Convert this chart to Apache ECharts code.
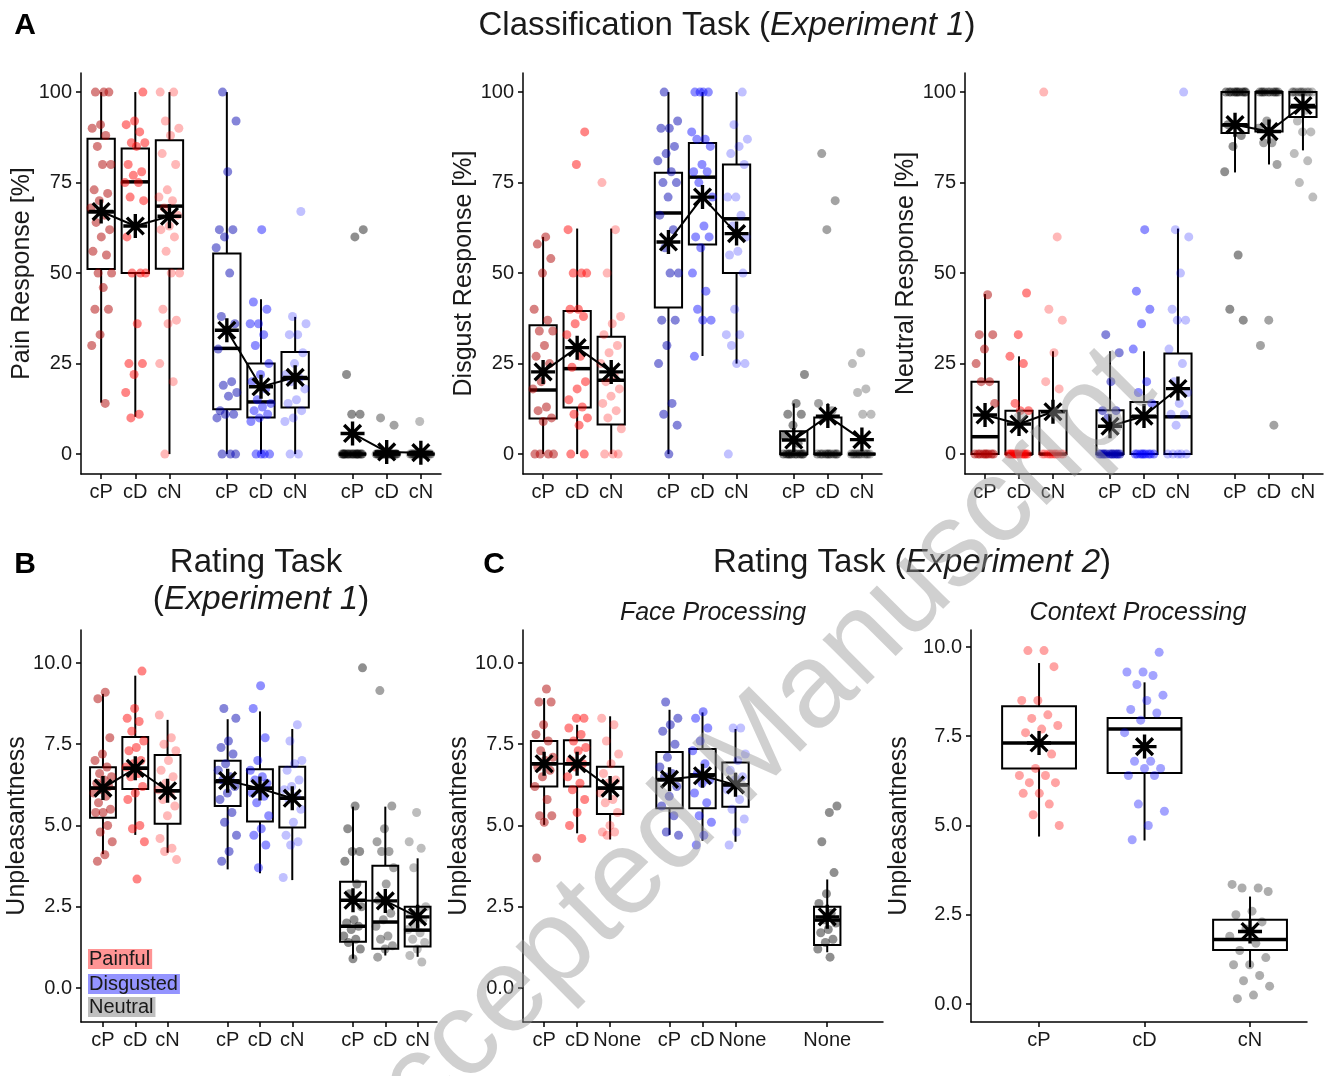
<!DOCTYPE html>
<html>
<head>
<meta charset="utf-8">
<script src="https://cdn.jsdelivr.net/npm/echarts@6/dist/echarts.min.js"></script>
<style>
  html, body { margin: 0; padding: 0; background: #fff; }
  #main { width: 1340px; height: 1076px; }
</style>
</head>
<body>
<div id="main"></div>
<script>
// ---- data ----
const classLabels = ['cP', 'cD', 'cN', 'cP', 'cD', 'cN', 'cP', 'cD', 'cN'];
const faceLabels = ['cP', 'cD', 'None', 'cP', 'cD', 'None', 'None'];
const contextLabels = ['cP', 'cD', 'cN'];
const pctTicks = [0, 25, 50, 75, 100];
const ratingTicks = [0, 2.5, 5, 7.5, 10];

// box stats: [lower whisker, Q1, median, Q3, upper whisker]
const painBox = [[14.2, 51.1, 66.9, 87.1, 100], [10.3, 50, 75.2, 84.4, 100], [0, 51.2, 68.5, 86.7, 100],
  [0, 12.4, 29.2, 55.4, 100], [0, 10.1, 14.4, 25, 42.8], [0, 12.9, 20.9, 28.2, 37.9],
  [0, 0, 0, 0, 0], [0, 0, 0, 0, 0], [0, 0, 0, 0, 0]];
const painMean = [67, 63, 65.7, 34.2, 18.6, 21.2, 5.7, 0.6, 0.4];
const painPoints = [
  [100, 100, 100, 91, 90, 88, 85, 80, 80, 73, 72, 70, 68, 66, 64, 62, 60, 56, 55, 50, 50, 46, 40, 40, 33, 30, 14],
  [100, 92, 91, 89, 86, 86, 85, 80, 78, 77, 75, 75, 71, 70, 63, 60, 50, 50, 50, 36, 25, 25, 22, 17, 11, 10],
  [100, 100, 92, 90, 88, 83, 80, 73, 71, 70, 68, 66, 63, 62, 60, 56, 50, 50, 40, 37, 36, 25, 20, 0],
  [100, 92, 78, 62, 62, 60, 57, 50, 38, 36, 34, 29, 20, 19, 17, 16, 12, 11, 11, 10, 0, 0, 0],
  [62, 42, 40, 36, 36, 33, 30, 25, 22, 20, 18, 15, 14, 13, 12, 11, 10, 9, 0, 0, 0, 0],
  [67, 38, 36, 33, 33, 28, 25, 22, 21, 20, 18, 15, 14, 12, 10, 9, 0, 0],
  [62, 60, 22, 11, 11, 0, 0, 0, 0, 0, 0, 0, 0, 0, 0, 0, 0, 0, 0, 0],
  [10, 8, 0, 0, 0, 0, 0, 0, 0, 0, 0, 0, 0, 0, 0, 0, 0, 0, 0, 0],
  [9, 0, 0, 0, 0, 0, 0, 0, 0, 0, 0, 0, 0, 0, 0, 0, 0, 0, 0, 0]
];

const disgustBox = [[0, 9.8, 17.7, 35.6, 60], [0, 12.9, 23.6, 39.5, 62.3], [0, 8.2, 20.4, 32.4, 62.3],
  [0, 40.5, 66.6, 77.7, 100], [27.1, 57.9, 76.5, 85.9, 100], [25, 50, 65, 80, 100],
  [0, 0, 0, 6.3, 14], [0, 0, 0, 10.1, 14], [0, 0, 0, 0, 0]];
const disgustMean = [22.7, 29.4, 22.7, 58.6, 71, 60.9, 3.9, 10.5, 4];
const disgustPoints = [
  [60, 58, 54, 50, 40, 37, 34, 34, 30, 27, 25, 20, 18, 13, 12, 10, 9, 0, 0, 0, 0],
  [89, 80, 62, 50, 50, 50, 40, 40, 38, 36, 33, 27, 24, 20, 18, 15, 13, 11, 10, 8, 0, 0],
  [75, 62, 50, 38, 36, 33, 30, 28, 25, 22, 20, 18, 16, 14, 12, 10, 7, 0, 0, 0],
  [100, 92, 90, 90, 85, 83, 81, 78, 75, 75, 71, 66, 62, 57, 50, 50, 37, 37, 30, 25, 14, 11, 8, 0],
  [100, 100, 100, 100, 89, 87, 87, 85, 80, 78, 78, 75, 71, 63, 60, 60, 57, 50, 45, 40, 37, 37, 27],
  [100, 91, 87, 85, 83, 80, 71, 71, 66, 63, 60, 56, 55, 50, 40, 33, 33, 30, 25, 25, 0],
  [22, 14, 11, 11, 8, 5, 3, 0, 0, 0, 0, 0, 0, 0, 0, 0, 0],
  [83, 70, 62, 14, 12, 10, 0, 0, 0, 0, 0, 0, 0, 0, 0, 0],
  [28, 25, 18, 17, 11, 11, 0, 0, 0, 0, 0, 0, 0, 0, 0, 0, 0]
];

const neutralBox = [[0, 0, 4.8, 20, 44.2], [0, 0, 0, 12, 27], [0, 0, 0, 12, 28.4],
  [0, 0, 0, 12.1, 28.4], [0, 0, 10.3, 14.4, 28.4], [0, 0, 10.3, 27.8, 62.3],
  [77.8, 88.7, 90.9, 100, 100], [80, 89.1, 100, 100, 100], [83.9, 93.1, 95.9, 100, 100]];
const neutralMean = [10.8, 8.3, 11.7, 7.7, 10.5, 18.1, 91, 89.1, 96.3];
const neutralPoints = [
  [44, 33, 33, 29, 25, 20, 20, 14, 0, 0, 0, 0, 0, 0, 0, 0, 0],
  [44.5, 33, 27, 25, 14, 12, 12, 0, 0, 0, 0, 0, 0, 0, 0, 0, 0, 0],
  [100, 60, 40, 37, 28, 20, 18, 0, 0, 0, 0, 0, 0, 0, 0, 0, 0, 0],
  [33, 28, 20, 12, 12, 10, 0, 0, 0, 0, 0, 0, 0, 0, 0, 0, 0, 0],
  [62, 45, 40, 36, 29, 20, 17, 14, 0, 0, 0, 0, 0, 0, 0, 0, 0],
  [100, 62, 60, 50, 40, 37, 37, 29, 25, 20, 17, 14, 11, 11, 8, 0, 0, 0, 0, 0],
  [100, 100, 100, 100, 100, 100, 100, 100, 100, 100, 91, 88, 85, 78, 55, 40, 37],
  [100, 100, 100, 100, 100, 100, 100, 100, 100, 100, 92, 90, 86, 86, 80, 37, 30, 8],
  [100, 100, 100, 100, 100, 100, 100, 100, 100, 100, 95, 92, 89, 89, 83, 81, 75, 71]
];

const ratingBox = [[4.12, 5.24, 6.15, 6.79, 9.05], [4.71, 6.12, 6.76, 7.72, 9.61], [4.16, 5.05, 6.07, 7.17, 8.25],
  [3.65, 5.6, 6.35, 6.99, 8.27], [3.53, 5.12, 6.15, 6.73, 8.51], [3.32, 4.94, 5.84, 6.81, 7.97],
  [0.9, 1.42, 1.9, 3.27, 5.58], [1.0, 1.21, 2.03, 3.76, 5.58], [0.96, 1.28, 1.78, 2.5, 3.99]];
const ratingMean = [6.15, 6.76, 6.07, 6.38, 6.14, 5.84, 2.7, 2.68, 2.19];
const ratingPoints = [
  [9.1, 8.9, 7.7, 7.2, 7.0, 6.8, 6.6, 6.5, 6.4, 6.3, 6.2, 6.1, 6.0, 5.9, 5.7, 5.5, 5.4, 5.4, 5.0, 4.8, 4.5, 4.1, 3.9],
  [9.75, 8.6, 8.3, 8.2, 7.9, 7.6, 7.4, 7.3, 7.0, 6.9, 6.8, 6.6, 6.5, 6.2, 6.0, 5.8, 5.0, 4.9, 4.5, 3.35],
  [8.4, 7.7, 7.5, 7.3, 7.0, 6.7, 6.5, 6.3, 6.1, 6.0, 5.8, 5.6, 5.3, 4.6, 4.3, 4.2, 3.95],
  [8.6, 8.3, 7.6, 7.4, 7.2, 6.9, 6.7, 6.5, 6.4, 6.2, 6.0, 5.8, 5.4, 5.1, 4.7, 4.2, 3.9],
  [9.3, 8.6, 7.7, 7.0, 6.7, 6.5, 6.4, 6.3, 6.1, 6.0, 5.9, 5.7, 5.3, 4.9, 4.7, 4.4, 3.7],
  [8.1, 7.6, 7.0, 6.9, 6.7, 6.4, 6.2, 6.1, 5.9, 5.8, 5.5, 5.1, 4.7, 4.5, 4.4, 3.4],
  [9.85, 5.6, 4.9, 4.2, 4.2, 3.9, 3.2, 2.9, 2.5, 2.1, 2.0, 1.9, 1.8, 1.6, 1.5, 1.4, 1.2, 0.9],
  [9.15, 5.6, 4.9, 4.5, 4.2, 4.2, 3.7, 3.2, 2.7, 2.3, 2.1, 1.9, 1.6, 1.5, 1.3, 1.2, 0.95],
  [5.4, 4.5, 4.3, 3.7, 2.5, 2.4, 2.3, 2.1, 1.9, 1.8, 1.7, 1.5, 1.4, 1.2, 1.0, 0.8]
];

const faceBox = [[5.02, 6.2, 6.9, 7.6, 8.92], [4.76, 6.2, 6.9, 7.62, 8.1], [4.57, 5.35, 6.15, 6.81, 8.36],
  [4.71, 5.53, 6.4, 7.26, 8.56], [4.53, 5.53, 6.56, 7.35, 8.48], [4.5, 5.58, 6.25, 6.94, 7.97],
  [1.1, 1.32, 2.09, 2.5, 3.34]];
const faceMean = [6.9, 6.9, 6.15, 6.42, 6.53, 6.25, 2.19];
const facePoints = [
  [9.2, 8.8, 8.8, 8.1, 7.8, 7.6, 7.3, 7.1, 7.0, 6.8, 6.7, 6.5, 6.2, 5.8, 5.3, 5.3, 5.1, 4.0],
  [8.3, 8.3, 8.0, 7.8, 7.6, 7.4, 7.3, 7.0, 6.9, 6.8, 6.5, 6.3, 6.1, 5.8, 5.4, 5.0, 4.6],
  [8.3, 8.1, 7.6, 7.2, 6.9, 6.6, 6.4, 6.3, 6.0, 5.8, 5.7, 5.4, 5.0, 4.8, 4.8, 4.7],
  [8.8, 8.3, 8.1, 7.9, 7.5, 7.1, 6.8, 6.6, 6.5, 6.2, 5.9, 5.6, 5.3, 4.8, 4.7],
  [8.5, 8.3, 8.0, 7.6, 7.3, 6.9, 6.6, 6.4, 6.3, 6.0, 5.7, 5.3, 5.1, 4.7, 4.4],
  [8.0, 8.0, 7.2, 7.0, 6.7, 6.5, 6.4, 6.1, 5.8, 5.5, 5.2, 4.8, 4.4],
  [5.6, 5.4, 4.5, 3.55, 2.9, 2.6, 2.3, 2.1, 2.0, 1.8, 1.7, 1.5, 1.4, 1.2, 0.95]
];

const contextBox = [[4.69, 6.6, 7.31, 8.34, 9.55], [4.58, 6.47, 7.7, 8.01, 9.01], [1.03, 1.51, 1.81, 2.36, 3.01]];
const contextMean = [7.31, 7.21, 2.03];
const contextPoints = [
  [9.9, 9.9, 9.45, 8.5, 8.5, 8.1, 8.0, 7.8, 7.7, 7.6, 7.0, 6.6, 6.4, 6.4, 6.2, 6.2, 5.9, 5.9, 5.6, 5.3, 5.0],
  [9.85, 9.3, 9.3, 9.2, 8.95, 8.65, 8.5, 8.25, 8.15, 7.95, 7.6, 6.8, 6.8, 6.6, 6.6, 6.4, 6.4, 5.6, 5.4, 5.0, 4.6],
  [3.35, 3.25, 3.25, 3.15, 2.6, 2.5, 2.3, 2.1, 1.9, 1.7, 1.5, 1.3, 1.1, 1.1, 0.8, 0.65, 0.5, 0.25, 0.15]
];

// ---- styling ----
const FONT = '"Liberation Sans", Arial, sans-serif';
const INK = '#1a1a1a';
// ggplot shape 8: "+" and "x" on top of each other
const STAR = 'path://M0 43L100 43L100 57L0 57Z M43 0L57 0L57 100L43 100Z ' +
  'M19.95 10.05L89.95 80.05L80.05 89.95L10.05 19.95Z M80.05 10.05L89.95 19.95L19.95 89.95L10.05 80.05Z';

const red = ['rgba(175,0,0,0.62)', 'rgba(255,0,0,0.6)', 'rgba(255,0,0,0.35)'];
const blue = ['rgba(0,0,175,0.6)', 'rgba(0,0,255,0.55)', 'rgba(0,0,255,0.3)'];
const grey = ['rgba(0,0,0,0.55)', 'rgba(0,0,0,0.45)', 'rgba(0,0,0,0.32)'];
const colors9 = red.concat(blue, grey);
const colorsFace = red.concat(blue, [grey[0]]);
const colorsCtx = ['rgba(255,0,0,0.45)', 'rgba(0,0,255,0.45)', 'rgba(0,0,0,0.4)'];

const posA = [0, 1, 2, 3.68, 4.68, 5.68, 7.36, 8.36, 9.36];
const posB = [0, 1, 2, 3.86, 4.86, 5.86, 7.74, 8.74, 9.74];
const posFace = [0, 1, 2, 3.8, 4.8, 5.8, 8.58];
const posCtx = [0, 1, 2];

const panels = [
  { grid: { left: 81, top: 73, width: 360, height: 401 }, xPos: posA, xMin: -0.59, xMax: 9.95,
    yMin: -5.5, yMax: 105.27, yTicks: pctTicks, yDec: 0, yName: 'Pain Response [%]', nameGap: 44,
    labels: classLabels, box: painBox, mean: painMean, pts: painPoints, colors: colors9,
    groups: [[0, 1, 2], [3, 4, 5], [6, 7, 8]], half: 0.4, jit: 0.32 },
  { grid: { left: 523, top: 73, width: 359, height: 401 }, xPos: posA, xMin: -0.59, xMax: 9.95,
    yMin: -5.5, yMax: 105.27, yTicks: pctTicks, yDec: 0, yName: 'Disgust Response [%]', nameGap: 43,
    labels: classLabels, box: disgustBox, mean: disgustMean, pts: disgustPoints, colors: colors9,
    groups: [[0, 1, 2], [3, 4, 5], [6, 7, 8]], half: 0.4, jit: 0.32 },
  { grid: { left: 965, top: 73, width: 358, height: 401 }, xPos: posA, xMin: -0.59, xMax: 9.95,
    yMin: -5.5, yMax: 105.27, yTicks: pctTicks, yDec: 0, yName: 'Neutral Response [%]', nameGap: 44,
    labels: classLabels, box: neutralBox, mean: neutralMean, pts: neutralPoints, colors: colors9,
    groups: [[0, 1, 2], [3, 4, 5], [6, 7, 8]], half: 0.4, jit: 0.32 },
  { grid: { left: 81, top: 630, width: 356, height: 392 }, xPos: posB, xMin: -0.68, xMax: 10.34,
    yMin: -1.046, yMax: 11.015, yTicks: ratingTicks, yDec: 1, yName: 'Unpleasantness', nameGap: 49,
    labels: classLabels, box: ratingBox, mean: ratingMean, pts: ratingPoints, colors: colors9,
    groups: [[0, 1, 2], [3, 4, 5], [6, 7, 8]], half: 0.4, jit: 0.3 },
  { grid: { left: 523, top: 630, width: 360, height: 392 }, xPos: posFace, xMin: -0.64, xMax: 10.27,
    yMin: -1.046, yMax: 11.015, yTicks: ratingTicks, yDec: 1, yName: 'Unpleasantness', nameGap: 46,
    labels: faceLabels, box: faceBox, mean: faceMean, pts: facePoints, colors: colorsFace,
    groups: [[0, 1, 2], [3, 4, 5], [6]], half: 0.4, jit: 0.3, shiftLabels: [2, 5] },
  { grid: { left: 971, top: 630, width: 336, height: 392 }, xPos: posCtx, xMin: -0.645, xMax: 2.54,
    yMin: -0.504, yMax: 10.476, yTicks: ratingTicks, yDec: 1, yName: 'Unpleasantness', nameGap: 59,
    labels: contextLabels, box: contextBox, mean: contextMean, pts: contextPoints, colors: colorsCtx,
    groups: [[0], [1], [2]], half: 0.35, jit: 0.2 }
];

function nearest(arr, v) {
  let best = 0;
  arr.forEach((a, k) => { if (Math.abs(a - v) < Math.abs(arr[best] - v)) best = k; });
  return best;
}

// even, repeatable spread of the points around their category
function jitter(k, c, w) {
  const f = ((k + 1 + c * 0.37) * 0.6180339887) % 1;
  return (f - 0.5) * 2 * w;
}

function boxRenderer(half) {
  return function (params, api) {
    const x = api.value(0);
    const wLo = api.coord([x, api.value(1)]);
    const q1 = api.coord([x - half, api.value(2)]);
    const med = api.coord([x, api.value(3)]);
    const q3 = api.coord([x + half, api.value(4)]);
    const wHi = api.coord([x, api.value(5)]);
    const line = { stroke: '#000', lineWidth: 2 };
    return {
      type: 'group',
      children: [
        { type: 'line', shape: { x1: wHi[0], y1: wHi[1], x2: wHi[0], y2: q3[1] }, style: line },
        { type: 'line', shape: { x1: wLo[0], y1: wLo[1], x2: wLo[0], y2: q1[1] }, style: line },
        { type: 'rect', shape: { x: q1[0], y: q3[1], width: q3[0] - q1[0], height: q1[1] - q3[1] },
          style: { fill: 'rgba(255,255,255,0)', stroke: '#000', lineWidth: 2 } },
        { type: 'line', shape: { x1: q1[0], y1: med[1], x2: q3[0], y2: med[1] },
          style: { stroke: '#000', lineWidth: 3.5 } }
      ]
    };
  };
}

const option = { animation: false, grid: [], xAxis: [], yAxis: [], series: [], graphic: [] };

panels.forEach((p, i) => {
  const shift = p.shiftLabels || [];
  option.grid.push(p.grid);
  option.xAxis.push({
    type: 'value', gridIndex: i, min: p.xMin, max: p.xMax,
    axisLine: { show: true, onZero: false, lineStyle: { color: '#000', width: 1.5 } },
    axisTick: { show: true, customValues: p.xPos, length: 5, lineStyle: { color: '#000', width: 1.5 } },
    axisLabel: {
      customValues: p.xPos,
      formatter: v => {
        const k = nearest(p.xPos, v);
        return shift.indexOf(k) >= 0 ? '{s|' + p.labels[k] + '}' : p.labels[k];
      },
      rich: { s: { fontSize: 20, fontFamily: FONT, color: INK, padding: [0, 0, 0, 14] } },
      color: INK, fontSize: 20, fontFamily: FONT, margin: 8
    },
    splitLine: { show: false }
  });
  option.yAxis.push({
    type: 'value', gridIndex: i, min: p.yMin, max: p.yMax,
    name: p.yName, nameLocation: 'middle', nameGap: p.nameGap,
    nameTextStyle: { fontSize: 25, color: INK, fontFamily: FONT },
    axisLine: { show: true, onZero: false, lineStyle: { color: '#000', width: 1.5 } },
    axisTick: { show: true, customValues: p.yTicks, length: 5, lineStyle: { color: '#000', width: 1.5 } },
    axisLabel: { customValues: p.yTicks, formatter: v => Number(v).toFixed(p.yDec),
      color: INK, fontSize: 20, fontFamily: FONT, margin: 9 },
    splitLine: { show: false }
  });

  option.series.push({
    type: 'custom', xAxisIndex: i, yAxisIndex: i, z: 2, silent: true,
    data: p.box.map((b, k) => [p.xPos[k]].concat(b)),
    encode: { x: 0, y: [1, 2, 3, 4, 5] },
    renderItem: boxRenderer(p.half)
  });

  const pts = [];
  p.pts.forEach((vals, c) => {
    vals.forEach((v, k) => {
      pts.push({ value: [p.xPos[c] + jitter(k, c, p.jit), v], itemStyle: { color: p.colors[c] } });
    });
  });
  option.series.push({
    type: 'scatter', xAxisIndex: i, yAxisIndex: i, z: 3, silent: true,
    symbolSize: 9, data: pts
  });

  p.groups.forEach(g => {
    option.series.push({
      type: 'line', xAxisIndex: i, yAxisIndex: i, z: 5, silent: true,
      data: g.map(k => [p.xPos[k], p.mean[k]]),
      symbol: STAR, symbolSize: 24, symbolKeepAspect: true, showSymbol: true,
      lineStyle: { color: '#000', width: 2 }, itemStyle: { color: '#000' }
    });
  });
});

function txt(x, y, text, size, extra) {
  return {
    type: 'text', x: x, y: y, silent: true,
    style: Object.assign({ text: text, fill: INK, fontSize: size, fontFamily: FONT,
      textAlign: 'center', textVerticalAlign: 'middle' }, extra || {})
  };
}
const richTitle = { n: { fontSize: 33, fontFamily: FONT, color: INK },
  i: { fontSize: 33, fontFamily: FONT, fontStyle: 'italic', color: INK } };

const watermark = txt(739, 766, 'Accepted Manuscript', 120, { fill: 'rgba(150,150,150,0.45)' });
watermark.rotation = Math.PI / 4;
watermark.z = 100;

option.graphic = [
  txt(25, 26, 'A', 30, { fontWeight: 'bold', fill: '#000' }),
  txt(727, 26, '{n|Classification Task (}{i|Experiment 1}{n|)}', 33, { rich: richTitle }),
  txt(25, 565, 'B', 30, { fontWeight: 'bold', fill: '#000' }),
  txt(256, 563, 'Rating Task', 33),
  txt(261, 600, '{n|(}{i|Experiment 1}{n|)}', 33, { rich: richTitle }),
  txt(494, 565, 'C', 30, { fontWeight: 'bold', fill: '#000' }),
  txt(912, 563, '{n|Rating Task (}{i|Experiment 2}{n|)}', 33, { rich: richTitle }),
  txt(713, 613, 'Face Processing', 25, { fontStyle: 'italic' }),
  txt(1138, 613, 'Context Processing', 25, { fontStyle: 'italic' }),
  txt(88, 959, 'Painful', 20, { textAlign: 'left', backgroundColor: 'rgba(255,0,0,0.42)', padding: [0, 2, 0, 1] }),
  txt(88, 984, 'Disgusted', 20, { textAlign: 'left', backgroundColor: 'rgba(0,0,255,0.42)', padding: [0, 2, 0, 1] }),
  txt(88, 1007, 'Neutral', 20, { textAlign: 'left', backgroundColor: 'rgba(0,0,0,0.25)', padding: [0, 2, 0, 1] }),
  watermark
];

const chart = echarts.init(document.getElementById('main'));
chart.setOption(option);
</script>
</body>
</html>
